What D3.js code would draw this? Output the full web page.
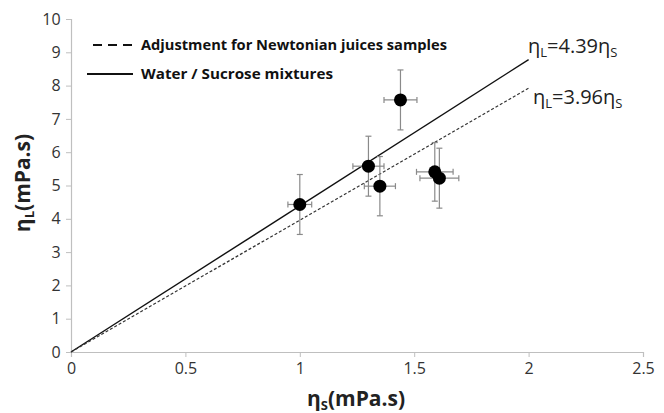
<!DOCTYPE html>
<html><head><meta charset="utf-8">
<script src="https://cdn.jsdelivr.net/npm/d3@7"></script>
<style>body{margin:0;background:#fff;} text{font-family:"Open Sans",sans-serif;}</style>
</head><body>
<svg id="c" width="664" height="413"></svg>
<script>
const xTicks = [0, 0.5, 1, 1.5, 2, 2.5];
const yTicks = [0,1,2,3,4,5,6,7,8,9,10];
const etaS = [1.00, 1.30, 1.35, 1.44, 1.59, 1.61];
const etaL = [4.43, 5.58, 4.98, 7.57, 5.41, 5.22];
const errX = [0.052, 0.068, 0.068, 0.072, 0.08, 0.085];
const errY = [0.90, 0.90, 0.89, 0.90, 0.88, 0.90];
const slopes = [4.39, 3.96];
const lineNames = ["Water / Sucrose mixtures", "Adjustment for Newtonian juices samples"];
const fitXMax = 2;

const svg = d3.select("#c");
const x = d3.scaleLinear().domain([0, 2.5]).range([71, 643]);
const y = d3.scaleLinear().domain([0, 10]).range([352, 19]);
const axisColor = "#bfbfbf";

const xa = svg.append("g").attr("transform", `translate(0,${y(0)})`)
  .call(d3.axisBottom(x).tickValues(xTicks).tickSize(5).tickFormat(d3.format("")));
const ya = svg.append("g").attr("transform", `translate(${x(0)},0)`)
  .call(d3.axisLeft(y).tickValues(yTicks).tickSize(5).tickFormat(d3.format("")));
[xa, ya].forEach(a => {
  a.select(".domain").attr("stroke", axisColor).attr("stroke-width", 1.2);
  a.selectAll(".tick line").attr("stroke", axisColor);
  a.selectAll(".tick text").attr("fill", "#333").style("font-size", "16px").style("font-family", "Open Sans");
});
xa.selectAll(".tick text").attr("dy", "0.85em");
ya.selectAll(".tick text").attr("dx", "-0.15em");

// fitted lines
const styles = [{dash: null, color: "#111", w: 1.4}, {dash: "3,2", color: "#333", w: 1.2}];
slopes.forEach((s, i) => {
  svg.append("line")
    .attr("x1", x(0)).attr("y1", y(0))
    .attr("x2", x(fitXMax)).attr("y2", y(s * fitXMax))
    .attr("stroke", styles[i].color).attr("stroke-width", styles[i].w)
    .attr("stroke-dasharray", styles[i].dash);
});

// error bars
const eb = svg.append("g").attr("stroke", "#8a8a8a").attr("stroke-width", 1.2);
etaS.forEach((sx, i) => {
  const cx = x(sx), cy = y(etaL[i]);
  const y1 = y(etaL[i] + errY[i]), y2 = y(etaL[i] - errY[i]);
  const x1 = x(sx - errX[i]), x2 = x(sx + errX[i]);
  eb.append("line").attr("x1", cx).attr("x2", cx).attr("y1", y1).attr("y2", y2);
  eb.append("line").attr("x1", cx-3).attr("x2", cx+3).attr("y1", y1).attr("y2", y1);
  eb.append("line").attr("x1", cx-3).attr("x2", cx+3).attr("y1", y2).attr("y2", y2);
  eb.append("line").attr("x1", x1).attr("x2", x2).attr("y1", cy).attr("y2", cy);
  eb.append("line").attr("x1", x1).attr("x2", x1).attr("y1", cy-3).attr("y2", cy+3);
  eb.append("line").attr("x1", x2).attr("x2", x2).attr("y1", cy-3).attr("y2", cy+3);
});
svg.append("g").selectAll("circle").data(etaS).join("circle")
  .attr("cx", d => x(d)).attr("cy", (d, i) => y(etaL[i])).attr("r", 6.5).attr("fill", "#000");

// legend
const leg = [
  {name: lineNames[1], style: styles[1], x1: 93, x2: 132, y: 45, len: 306},
  {name: lineNames[0], style: styles[0], x1: 87, x2: 133, y: 74, len: 192}
];
leg.forEach(l => {
  svg.append("line").attr("x1", l.x1).attr("x2", l.x2).attr("y1", l.y).attr("y2", l.y)
    .attr("stroke", "#111").attr("stroke-width", 2)
    .attr("stroke-dasharray", l.style.dash ? "9,6" : null);
  svg.append("text").attr("x", 141).attr("y", l.y).attr("dy", "0.35em")
    .attr("textLength", l.len).attr("lengthAdjust", "spacingAndGlyphs")
    .style("font-size", "14px").style("font-weight", "bold").attr("fill", "#111").text(l.name);
});

// equation labels
function eq(g, tx, ty, s) {
  const t = g.append("text").attr("x", tx).attr("y", ty).style("font-size", "20px").attr("fill", "#222");
  t.append("tspan").text("η");
  t.append("tspan").text("L").style("font-size", "13px").attr("dy", 4);
  t.append("tspan").text("=" + s.toFixed(2) + "η").attr("dy", -4);
  t.append("tspan").text("S").style("font-size", "13px").attr("dy", 4);
}
eq(svg, 528, 53, slopes[0]);
eq(svg, 533, 104, slopes[1]);

// axis titles
const xt = svg.append("text").attr("x", 356).attr("y", 406).attr("text-anchor", "middle")
  .style("font-size", "21px").style("font-weight", "bold").attr("fill", "#222");
xt.append("tspan").text("η");
xt.append("tspan").text("S").style("font-size", "13px").attr("dy", 4);
xt.append("tspan").text("(mPa.s)").attr("dy", -4);

const yt = svg.append("text").attr("transform", "translate(30,183) rotate(-90)").attr("text-anchor", "middle")
  .style("font-size", "21px").style("font-weight", "bold").attr("fill", "#222");
yt.append("tspan").text("η");
yt.append("tspan").text("L").style("font-size", "13px").attr("dy", 4);
yt.append("tspan").text("(mPa.s)").attr("dy", -4);
</script>
</body></html>
